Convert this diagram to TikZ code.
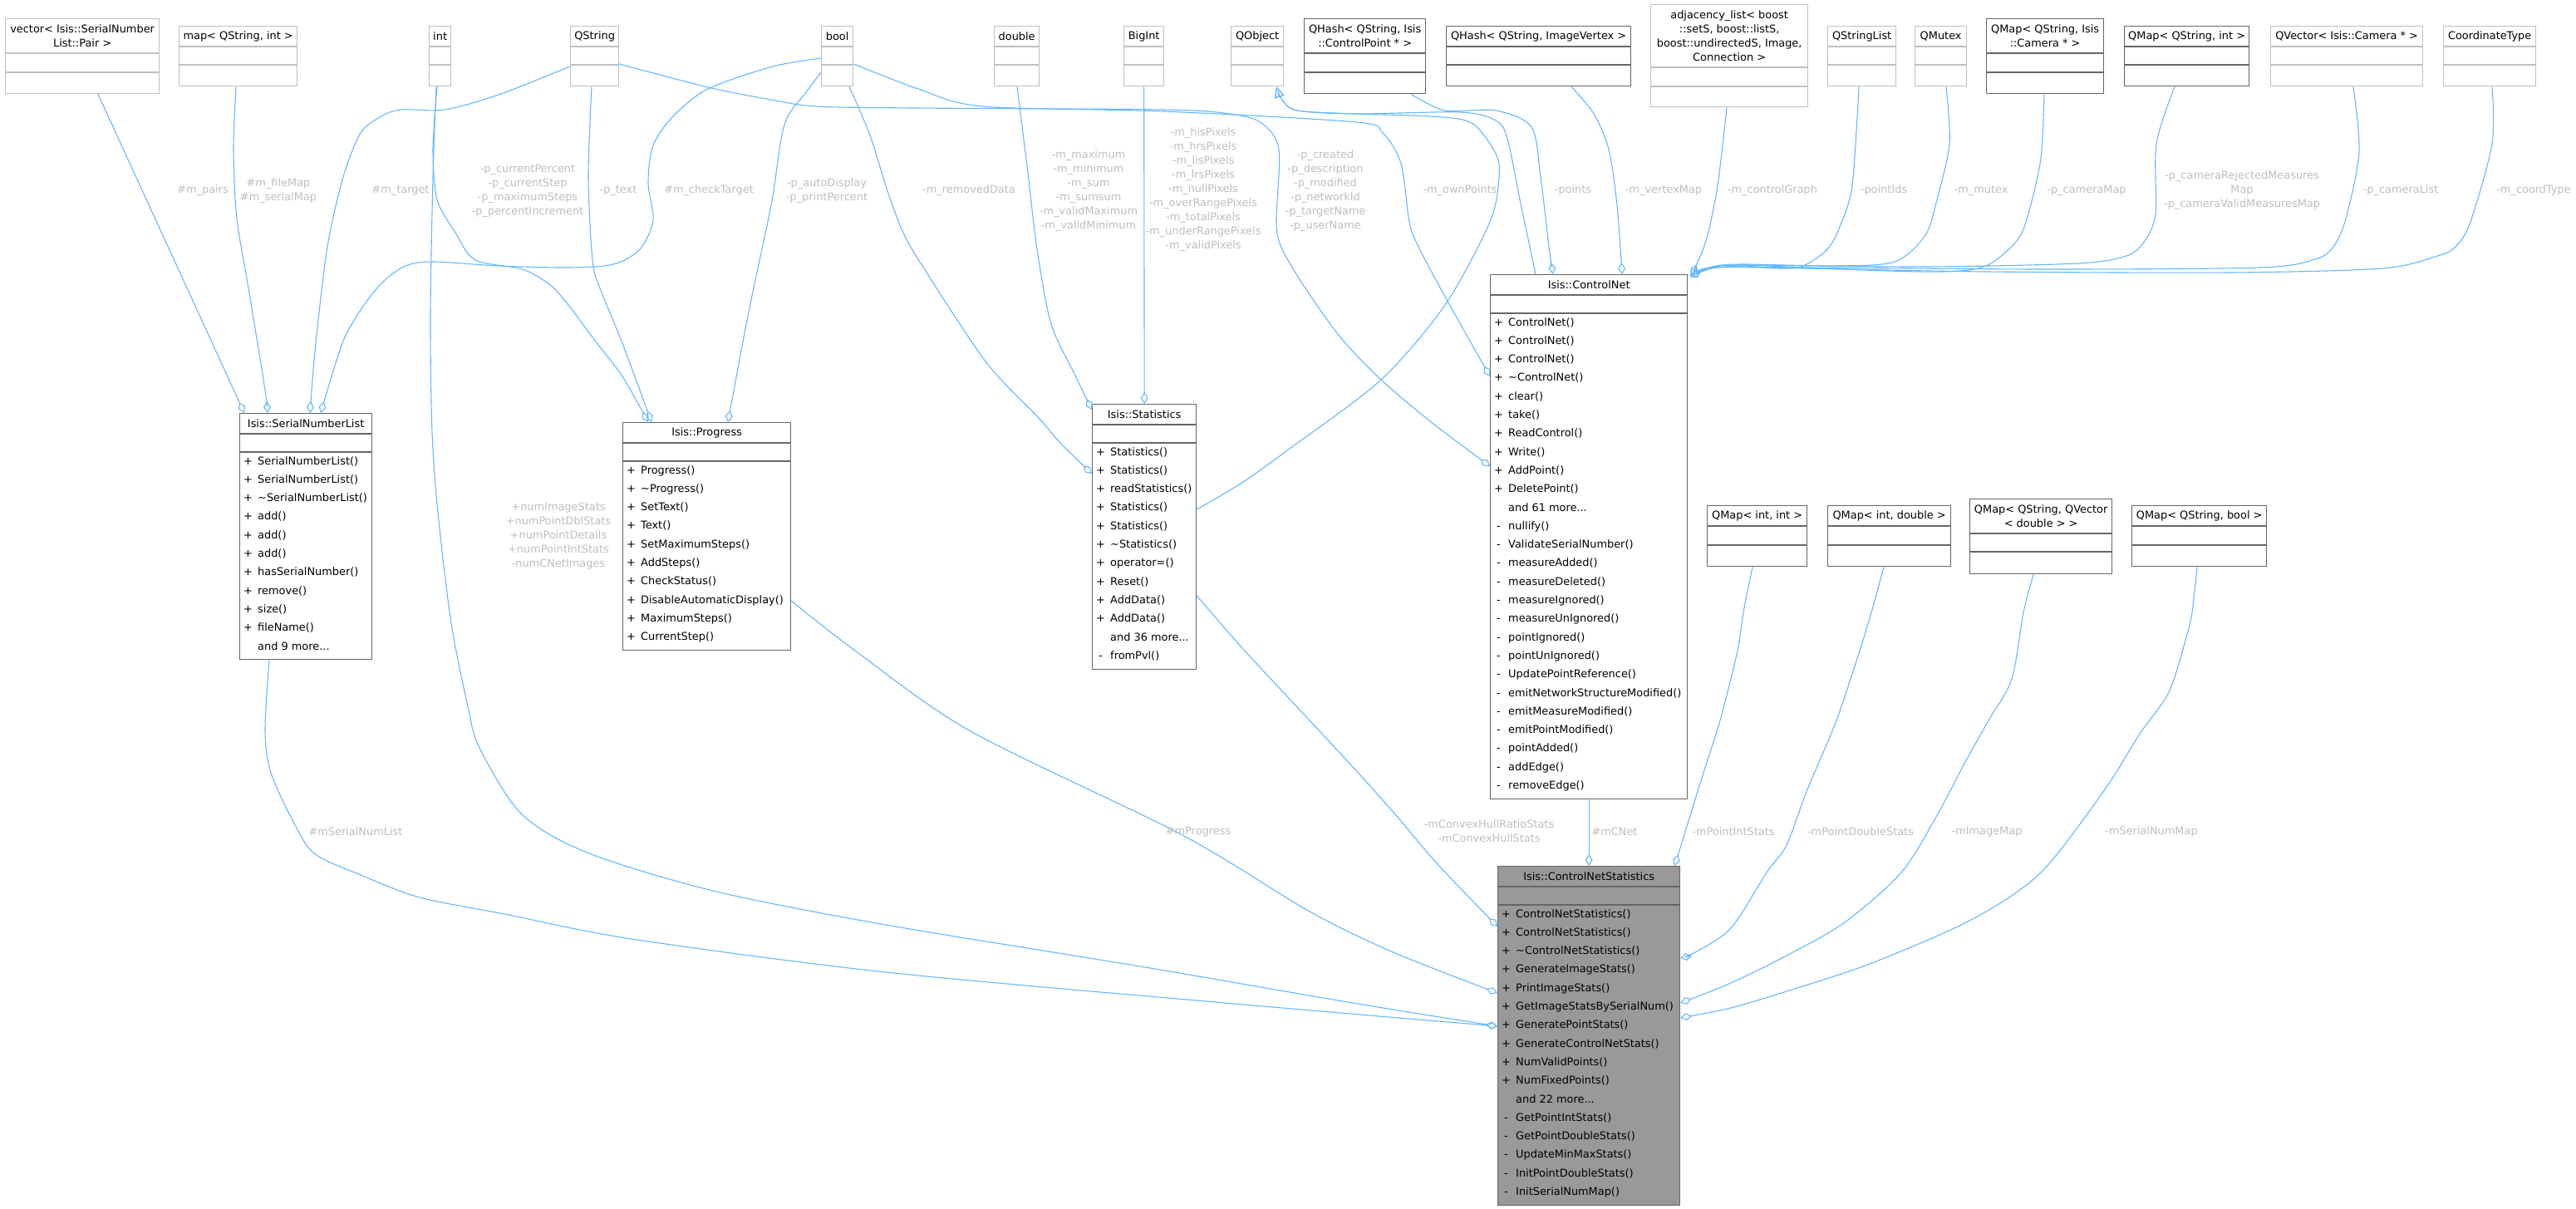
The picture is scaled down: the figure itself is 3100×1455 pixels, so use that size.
\documentclass[tikz,border=0pt]{standalone}
\usepackage{fontspec}
\setmainfont{DejaVu Sans}
\usetikzlibrary{calc,arrows.meta}
\definecolor{edgeblue}{HTML}{63B8FF}
\definecolor{boxdark}{HTML}{666666}
\definecolor{boxlight}{HTML}{BFBFBF}
\definecolor{mainfill}{HTML}{999999}
\definecolor{lblgrey}{HTML}{BEBEBE}
\tikzset{member/.style={font=\fontsize{12.9}{17}\selectfont, inner sep=0pt},
    darkbox/.style={draw=boxdark, fill=white, line width=1.3pt},
    lightbox/.style={draw=boxlight, fill=white, line width=1.3pt},
    mainbox/.style={draw=boxdark, fill=mainfill, line width=1.3pt},
    lbl/.style={member, text=lblgrey, align=center},
    rel/.style={draw=edgeblue, line width=1.1pt, -{Diamond[open, length=14pt, width=9pt]}},
    inh/.style={draw=edgeblue, line width=1.1pt, -{Triangle[open, length=13pt, width=12pt]}},
    }
% box: style, name, x, y, width, height, title height, attribute height, title
\newcommand\classbox[9]{%
  \node[#1, minimum width=#5pt, minimum height=#6pt, anchor=north west] (#2) at (#3,#4) {};
  \draw[#1, fill=none] ($(#2.north west)+(0,#7)$) -- ($(#2.north east)+(0,#7)$);
  \draw[#1, fill=none] ($(#2.north west)+(0,#7+#8)$) -- ($(#2.north east)+(0,#7+#8)$);
  \node[member, align=center] (#2-title) at ($(#2.north)+(0,#7/2)$) {#9};
}
% method rows of a box
\newcommand\members[2]{%
  \foreach \sg/\nm [count=\k from 0] in {#2} {
    \node[member, anchor=base] (#1-s\k) at ($(#1.north west)+(10.5,62+\k*22.3)$) {\sg};
    \node[member, anchor=base west] (#1-m\k) at ($(#1.north west)+(22,62+\k*22.3)$) {\nm};
  }}

\begin{document}
\begin{tikzpicture}[x=1pt, y=-1pt]
\path[use as bounding box, fill=white] (0,0) rectangle (3100,1455);

% member types, top row
\classbox{lightbox}{vec}{6}{22}{185}{90}{42}{23}{vector< Isis::SerialNumber\\List::Pair >}
\classbox{lightbox}{map}{215}{31}{142}{72}{25}{22}{map< QString, int >}
\classbox{lightbox}{int}{516}{31}{26}{72}{25}{22}{int}
\classbox{lightbox}{qstr}{686}{31}{58}{72}{25}{22}{QString}
\classbox{lightbox}{bool}{988}{31}{38}{72}{25}{22}{bool}
\classbox{lightbox}{dbl}{1196}{31}{54}{72}{25}{22}{double}
\classbox{lightbox}{bigint}{1352}{31}{48}{72}{25}{22}{BigInt}
\classbox{lightbox}{qobj}{1481}{31}{63}{72}{25}{22}{QObject}
\classbox{darkbox}{hashcp}{1569}{22}{146}{90}{42}{23}{QHash< QString, Isis\\::ControlPoint * >}
\classbox{darkbox}{hashiv}{1740}{31}{222}{72}{25}{22}{QHash< QString, ImageVertex >}
\classbox{lightbox}{adj}{1986}{5}{189}{123}{76}{23}{adjacency\_list< boost\\::setS, boost::listS,\\boost::undirectedS, Image,\\Connection >}
\classbox{lightbox}{qsl}{2199}{31}{82}{72}{25}{22}{QStringList}
\classbox{lightbox}{qmutex}{2304}{31}{62}{72}{25}{22}{QMutex}
\classbox{darkbox}{mapcam}{2390}{22}{141}{90}{42}{23}{QMap< QString, Isis\\::Camera * >}
\classbox{darkbox}{mapsi}{2556}{31}{150}{72}{25}{22}{QMap< QString, int >}
\classbox{lightbox}{qvec}{2732}{31}{183}{72}{25}{22}{QVector< Isis::Camera * >}
\classbox{lightbox}{coord}{2940}{31}{111}{72}{25}{22}{CoordinateType}

% classes
\classbox{darkbox}{snl}{288}{497}{159}{296}{25}{22}{Isis::SerialNumberList}
\members{snl}{+/SerialNumberList(), +/SerialNumberList(), +/\textasciitilde SerialNumberList(), +/add(), +/add(), +/add(), +/hasSerialNumber(), +/remove(), +/size(), +/fileName(), {}/{and 9 more...}}
\classbox{darkbox}{prog}{749}{508}{202}{274}{25}{22}{Isis::Progress}
\members{prog}{+/Progress(), +/\textasciitilde Progress(), +/SetText(), +/Text(), +/SetMaximumSteps(), +/AddSteps(), +/CheckStatus(), +/DisableAutomaticDisplay(), +/MaximumSteps(), +/CurrentStep()}
\classbox{darkbox}{stats}{1314}{486}{125}{319}{25}{22}{Isis::Statistics}
\members{stats}{+/Statistics(), +/Statistics(), +/readStatistics(), +/Statistics(), +/Statistics(), +/\textasciitilde Statistics(), +/operator=(), +/Reset(), +/AddData(), +/AddData(), {}/{and 36 more...}, -/fromPvl()}
\classbox{darkbox}{cnet}{1793}{330}{237}{631}{25}{22}{Isis::ControlNet}
\members{cnet}{+/ControlNet(), +/ControlNet(), +/ControlNet(), +/\textasciitilde ControlNet(), +/clear(), +/take(), +/ReadControl(), +/Write(), +/AddPoint(), +/DeletePoint(), {}/{and 61 more...}, -/nullify(), -/ValidateSerialNumber(), -/measureAdded(), -/measureDeleted(), -/measureIgnored(), -/measureUnIgnored(), -/pointIgnored(), -/pointUnIgnored(), -/UpdatePointReference(), -/emitNetworkStructureModified(), -/emitMeasureModified(), -/emitPointModified(), -/pointAdded(), -/addEdge(), -/removeEdge()}
\classbox{darkbox}{mapii}{2054}{608}{120}{73}{25}{23}{QMap< int, int >}
\classbox{darkbox}{mapid}{2199}{608}{148}{73}{25}{23}{QMap< int, double >}
\classbox{darkbox}{mapsv}{2370}{600}{171}{90}{42}{22}{QMap< QString, QVector\\< double > >}
\classbox{darkbox}{mapsb}{2565}{608}{162}{73}{25}{23}{QMap< QString, bool >}
\classbox{mainbox}{cns}{1802}{1042}{219}{408}{25}{22}{Isis::ControlNetStatistics}
\members{cns}{+/ControlNetStatistics(), +/ControlNetStatistics(), +/\textasciitilde ControlNetStatistics(), +/GenerateImageStats(), +/PrintImageStats(), +/GetImageStatsBySerialNum(), +/GeneratePointStats(), +/GenerateControlNetStats(), +/NumValidPoints(), +/NumFixedPoints(), {}/{and 22 more...}, -/GetPointIntStats(), -/GetPointDoubleStats(), -/UpdateMinMaxStats(), -/InitPointDoubleStats(), -/InitSerialNumMap()}

% into SerialNumberList
\draw[rel] ($(vec.south west)+(112,0)$) -- ($(snl.north west)+(6,0)$);
\draw[rel] plot[smooth] coordinates {($(map.south west)+(69,0)$) (281,180) (285,263) (299,347) (318,463) ($(snl.north west)+(34,0)$)};
\draw[rel] plot[smooth] coordinates {($(qstr.north west)+(0,49)$) (600,114) (535,132) (483,132) (459,140) (434,160) (413,213) (394,297) (380,413) ($(snl.north west)+(85,0)$)};
\draw[rel] plot[smooth] coordinates {($(bool.north west)+(0,39)$) (930,80) (852,107) (810,140) (786,175) (780,220) (786,265) (770,300) (738,318) (684,322) (600,320) (521,315) (488,320) (460,340) (434,373) (412,413) ($(snl.north west)+(98,0)$)};
% into Progress
\draw[rel] plot[smooth] coordinates {($(int.south west)+(10,0)$) (521,180) (526,240) (548,280) (572,313) (629,324) (662,343) (684,367) (716,410) (749,453) ($(prog.north west)+(31,0)$)};
\draw[rel] plot[smooth] coordinates {($(qstr.south west)+(26,0)$) (708,213) (713,313) (722,347) (749,413) ($(prog.north west)+(35,0)$)};
\draw[rel] plot[smooth] coordinates {($(bool.north west)+(0,56)$) (971,110) (944,150) (928,247) (900,380) ($(prog.north west)+(127,0)$)};
% into Statistics
\draw[rel] plot[smooth] coordinates {($(bool.south west)+(34,0)$) (1047,163) (1068,230) (1087,280) (1110,320) (1186,435) (1250,503) (1276,533) ($(stats.north west)+(0,84)$)};
\draw[rel] plot[smooth] coordinates {($(dbl.south west)+(28,0)$) (1236,200) (1248,300) (1265,390) (1293,450) ($(stats.north west)+(0,7)$)};
\draw[rel] (bigint.south) -- (stats.north);
% into ControlNet
\draw[rel] plot[smooth] coordinates {($(qstr.north east)+(0,46)$) (852,105) (928,120) (982,128) (1100,130) (1400,132) (1480,137) (1518,148) (1539,180) (1536,267) (1543,300) (1571,347) (1614,407) (1662,457) (1721,507) ($(cnet.north west)+(0,231)$)};
\draw[rel] plot[smooth] coordinates {($(bool.north east)+(0,46)$) (1105,107) (1182,128) (1400,134) (1632,147) (1664,160) (1686,197) (1696,267) (1707,297) (1739,357) ($(cnet.north west)+(0,123)$)};
\draw[rel] plot[smooth] coordinates {($(hashcp.south west)+(129,0)$) (1739,133) (1800,133) (1843,153) (1854,213) (1864,297) ($(cnet.north west)+(76,0)$)};
\draw[rel] plot[smooth] coordinates {($(hashiv.south west)+(151,0)$) (1918,137) (1936,180) (1946,247) ($(cnet.north west)+(159,0)$)};
\draw[rel] plot[smooth] coordinates {($(adj.south west)+(92,0)$) (2067,223) (2053,290) ($(cnet.north east)+(4,1)$)};
\draw[rel] plot[smooth] coordinates {($(qsl.south west)+(38,0)$) (2229,223) (2214,273) (2199,300) (2170,320) (2141,323) (2097,320) (2060,323) ($(cnet.north east)+(3,3)$)};
\draw[rel] plot[smooth] coordinates {($(qmutex.south west)+(38,0)$) (2346,173) (2331,240) (2317,283) (2280,315) (2207,320) (2097,318) (2060,321) ($(cnet.north east)+(3,3)$)};
\draw[rel] plot[smooth] coordinates {($(mapcam.south west)+(70,0)$) (2456,190) (2441,257) (2427,290) (2390,320) (2339,327) (2243,325) (2097,319) (2060,322) ($(cnet.north east)+(3,3)$)};
\draw[rel] plot[smooth] coordinates {($(mapsi.south west)+(61,0)$) (2595,173) (2594,257) (2581,290) (2559,308) (2500,317) (2317,321) (2097,319) (2060,322) ($(cnet.north east)+(3,3)$)};
\draw[rel] plot[smooth] coordinates {($(qvec.south west)+(100,0)$) (2839,183) (2823,263) (2808,297) (2786,312) (2720,322) (2463,324) (2170,322) (2060,322) ($(cnet.north east)+(3,3)$)};
\draw[rel] plot[smooth] coordinates {($(coord.south west)+(59,0)$) (2999,173) (2973,267) (2955,297) (2933,308) (2867,323) (2683,328) (2390,327) (2170,323) (2060,322) ($(cnet.north east)+(3,3)$)};
% inheritance
\draw[inh] plot[smooth] coordinates {($(stats.north east)+(0,127)$) (1496,580) (1556,537) (1662,457) (1739,367) (1793,267) (1804,213) (1800,185) (1771,148) (1721,140) (1632,137) (1561,133) (1543,120) ($(qobj.south west)+(55,0)$)};
\draw[inh] plot[smooth] coordinates {($(cnet.north west)+(55,0)$) (1830,245) (1814,167) (1800,145) (1757,135) (1632,137) (1561,133) (1543,120) ($(qobj.south west)+(55,0)$)};
% into ControlNetStatistics
\draw[rel] (cnet.south) -- (cns.north);
\draw[rel] plot[smooth] coordinates {($(mapii.south west)+(55,0)$) (2098,737) (2091,783) (2070,867) (2049,933) ($(cns.north east)+(-7,0)$)};
\draw[rel] plot[smooth] coordinates {($(mapid.south west)+(68,0)$) (2252,737) (2238,783) (2210,867) (2175,950) (2150,1017) (2126,1050) (2083,1117) (2040,1146) ($(cns.north east)+(0,111)$)};
\draw[rel] plot[smooth] coordinates {($(mapsv.south west)+(77,0)$) (2435,737) (2421,817) (2393,867) (2365,917) (2330,983) (2288,1050) (2220,1110) (2150,1150) (2083,1183) ($(cns.north east)+(0,165)$)};
\draw[rel] plot[smooth] coordinates {($(mapsb.south west)+(79,0)$) (2638,737) (2631,767) (2610,833) (2575,883) (2533,950) (2456,1050) (2372,1107) (2250,1160) (2150,1193) (2083,1213) ($(cns.north east)+(0,183)$)};
\draw[rel] plot[smooth] coordinates {($(snl.south west)+(36,0)$) (319,880) (326,930) (352,987) (378,1027) (434,1053) (505,1080) (607,1100) (760,1130) (1066,1170) (1474,1207) ($(cns.north west)+(0,193)$)};
\draw[rel] plot[smooth] coordinates {($(int.south west)+(9,0)$) (521,213) (518,380) (520,520) (527,617) (543,750) (563,850) (577,900) (628,980) (709,1027) (862,1073) (1066,1113) (1372,1163) (1628,1207) ($(cns.north west)+(0,193)$)};
\draw[rel] plot[smooth] coordinates {($(prog.north east)+(0,215)$) (1025,780) (1168,880) (1423,1005) (1576,1097) (1679,1147) ($(cns.north west)+(0,153)$)};
\draw[rel] plot[smooth] coordinates {($(stats.north east)+(0,231)$) (1495,780) (1576,867) (1628,923) (1679,980) (1730,1040) ($(cns.north west)+(0,73)$)};

% edge labels
\node[lbl] (lpairs) at (244,229) {\#m\_pairs};
\node[lbl] (lfilemap) at (335,229.5) {\#m\_fileMap\\\#m\_serialMap};
\node[lbl] (ltarget) at (482,229) {\#m\_target};
\node[lbl] (lpercent) at (635,229.5) {-p\_currentPercent\\-p\_currentStep\\-p\_maximumSteps\\-p\_percentIncrement};
\node[lbl] (ltext) at (744,229) {-p\_text};
\node[lbl] (lcheck) at (853,229) {\#m\_checkTarget};
\node[lbl] (lauto) at (995,229.5) {-p\_autoDisplay\\-p\_printPercent};
\node[lbl] (lremoved) at (1166,229) {-m\_removedData};
\node[lbl] (lmaximum) at (1310,229.5) {-m\_maximum\\-m\_minimum\\-m\_sum\\-m\_sumsum\\-m\_validMaximum\\-m\_validMinimum};
\node[lbl] (lpixels) at (1448,228.5) {-m\_hisPixels\\-m\_hrsPixels\\-m\_lisPixels\\-m\_lrsPixels\\-m\_nullPixels\\-m\_overRangePixels\\-m\_totalPixels\\-m\_underRangePixels\\-m\_validPixels};
\node[lbl] (lcreated) at (1595,229.5) {-p\_created\\-p\_description\\-p\_modified\\-p\_networkId\\-p\_targetName\\-p\_userName};
\node[lbl] (lown) at (1757,229) {-m\_ownPoints};
\node[lbl] (lpoints) at (1893,229) {-points};
\node[lbl] (lvertex) at (2002,229) {-m\_vertexMap};
\node[lbl] (lgraph) at (2133,229) {-m\_controlGraph};
\node[lbl] (lpointids) at (2267,229) {-pointIds};
\node[lbl] (lmutex) at (2384,229) {-m\_mutex};
\node[lbl] (lcammap) at (2511,229) {-p\_cameraMap};
\node[lbl] (lrejected) at (2698,229) {-p\_cameraRejectedMeasures\\Map\\-p\_cameraValidMeasuresMap};
\node[lbl] (lcamlist) at (2889,229) {-p\_cameraList};
\node[lbl] (lcoord) at (3049,229) {-m\_coordType};
\node[lbl] (lnum) at (672,645) {+numImageStats\\+numPointDblStats\\+numPointDetails\\+numPointIntStats\\-numCNetImages};
\node[lbl] (lserial) at (428,1001) {\#mSerialNumList};
\node[lbl] (lprogress) at (1442,1001) {\#mProgress};
\node[lbl] (lhull) at (1792,1000.5) {-mConvexHullRatioStats\\-mConvexHullStats};
\node[lbl] (lcnet) at (1943,1001) {\#mCNet};
\node[lbl] (lintstats) at (2086,1001) {-mPointIntStats};
\node[lbl] (ldblstats) at (2239,1001) {-mPointDoubleStats};
\node[lbl] (limage) at (2391,1001) {-mImageMap};
\node[lbl] (lsnmap) at (2589,1001) {-mSerialNumMap};
\end{tikzpicture}
\end{document}
